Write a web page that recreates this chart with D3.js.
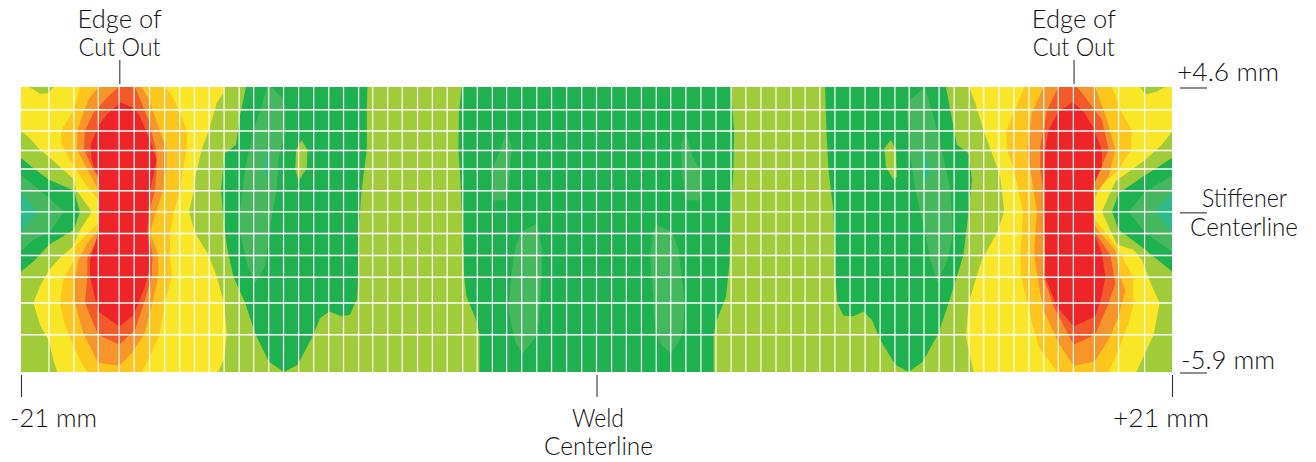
<!DOCTYPE html>
<html><head><meta charset="utf-8">
<script src="https://cdn.jsdelivr.net/npm/d3@7/dist/d3.min.js"></script>
<style>html,body{margin:0;padding:0;background:#fff}svg{display:block}text{font-family:Lato,"Open Sans",sans-serif;font-weight:300;fill:#111;font-size:25px}</style>
</head><body><svg id="c" width="1316" height="462"></svg>
<script>
// Contour outlines in mm: [x along weld normal, y from stiffener centerline]
const yellowLeft=[[-21,4.6],[-13.59,4.6],[-13.62,4.37],[-13.86,4.01],[-14.16,2.96],[-14.41,2.29],[-14.63,1.30],[-14.69,.79],[-14.87,0],[-14.65,-.78],[-14.16,-1.58],[-13.86,-2.38],[-13.59,-3.36],[-13.49,-4.53],[-13.59,-5.39],[-13.80,-5.9],[-19.68,-5.9],[-19.82,-5.45],[-19.98,-4.77],[-20.31,-4.16],[-20.55,-3.36],[-20.31,-2.75],[-19.98,-2.14],[-19.58,-1.70],[-19.07,-1.25],[-18.91,-.78],[-18.42,0],[-18.99,.81],[-19.07,1.21],[-19.46,1.55],[-19.94,1.98],[-20.31,2.29],[-20.74,2.78],[-21,2.96]];
const notchLeft=[[-20.70,4.6],[-20.31,4.35],[-19.98,4.37],[-19.82,4.6]];
const goldLeft=[[-18.85,4.6],[-19.07,3.76],[-19.54,2.99],[-19.52,2.47],[-19.07,1.67],[-18.58,.93],[-18.18,.44],[-18.16,0],[-18.18,-.42],[-18.55,-.78],[-19.03,-1.27],[-19.07,-1.77],[-19.46,-2.50],[-19.58,-3.36],[-19.40,-4.16],[-19.07,-4.96],[-18.79,-5.57],[-18.58,-5.9],[-16.60,-5.9],[-16.29,-5.33],[-15.95,-4.53],[-15.75,-3.36],[-15.50,-2.38],[-15.56,-1.58],[-15.56,-.78],[-15.42,0],[-15.20,.79],[-15.10,1.55],[-14.95,2.29],[-14.93,2.96],[-15.20,3.64],[-15.50,4.31],[-15.75,4.6]];
const orangeLeft=[[-18.18,4.6],[-18.51,4.19],[-18.73,3.64],[-18.95,2.96],[-18.95,2.29],[-18.58,1.55],[-18.18,.81],[-18.16,0],[-18.18,-.66],[-18.58,-1.15],[-18.91,-1.77],[-19.03,-2.50],[-19.03,-3.36],[-18.73,-4.47],[-18.18,-5.57],[-17.41,-5.67],[-16.96,-5.20],[-16.51,-4.53],[-16.27,-3.61],[-15.99,-2.40],[-15.99,-1.58],[-16.29,-.78],[-16.07,0],[-15.81,.79],[-15.69,1.59],[-15.69,2.29],[-16.07,3.39],[-16.35,4.19],[-16.60,4.6]];
const redOrangeLeft=[[-17.45,4.6],[-17.88,4.19],[-18.36,3.64],[-18.67,2.99],[-18.70,2.29],[-18.36,1.55],[-18.16,1.24],[-18.16,-.91],[-18.58,-1.70],[-18.58,-2.40],[-18.67,-3.36],[-18.18,-4.53],[-17.41,-4.90],[-16.84,-4.35],[-16.51,-3.36],[-16.23,-2.40],[-16.20,-1.58],[-16.35,-.78],[-16.33,0],[-16.11,.79],[-16.05,1.59],[-16.07,2.29],[-16.35,3.39],[-16.60,4.01],[-16.84,4.6]];
const redLeft=[[-17.36,4.04],[-17.88,3.58],[-18.18,3.15],[-18.46,2.47],[-18.42,1.92],[-18.18,1.24],[-18.16,0],[-18.18,-.78],[-18.48,-1.77],[-18.48,-2.40],[-18.18,-3.67],[-17.41,-4.22],[-16.88,-3.79],[-16.48,-2.75],[-16.32,-2.14],[-16.29,-1.58],[-16.39,-.78],[-16.35,0],[-16.29,.79],[-16.05,1.92],[-16.35,2.78],[-16.66,3.51],[-16.87,3.82]];
const greenWedgeLeft=[[-21,1.98],[-20.55,1.61],[-19.98,1.18],[-19.07,.79],[-18.85,0],[-19.07,-.66],[-19.98,-1.21],[-20.55,-1.83],[-21,-2.20]];
const midWedgeLeft=[[-21,1.36],[-20.55,1.0],[-19.98,.51],[-19.43,0],[-19.98,-.78],[-20.55,-1.03],[-21,-1.46]];
const tealWedgeLeft=[[-21,.75],[-20.43,0],[-21,-.78]];
const greenA=[[-12.79,4.6],[-13.03,3.45],[-13.15,2.47],[-13.56,2.16],[-13.62,1.67],[-13.70,.81],[-13.62,-.17],[-13.49,-1.27],[-13.25,-2.38],[-12.82,-3.36],[-12.46,-4.47],[-11.96,-5.51],[-11.41,-5.9],[-10.90,-5.63],[-10.33,-4.53],[-10.09,-3.92],[-9.75,-3.67],[-9.30,-3.85],[-8.99,-3.79],[-8.75,-3.24],[-8.68,-2.40],[-8.68,-.78],[-8.63,0],[-8.57,.81],[-8.38,2.29],[-8.38,3.76],[-8.36,4.6]];
const islandA=[[-10.76,2.65],[-10.55,2.29],[-10.57,1.61],[-10.88,1.14],[-10.99,1.59],[-10.96,2.29]];
const midA=[[-11.85,4.6],[-11.43,4.13],[-11.34,3.58],[-11.36,2.99],[-11.61,1.92],[-11.67,.81],[-11.85,-.17],[-11.97,-.91],[-12.10,-2.01],[-12.46,-2.63],[-12.76,-1.89],[-13.01,-.78],[-13.01,0],[-12.82,1.59],[-12.52,3.02],[-12.22,3.88],[-12.03,4.6]];
const tealA=[[-11.97,2.47],[-11.94,1.67],[-12.0,1.24],[-12.12,1.49],[-12.07,2.16]];
const greenCenter=[[-4.92,4.6],[-5.02,3.64],[-5.04,2.29],[-4.96,1.06],[-4.88,-.78],[-4.83,-2.40],[-4.74,-3.12],[-4.35,-4.10],[-4.27,-4.53],[-4.27,-5.9],[4.27,-5.9],[4.27,-4.53],[4.39,-3.98],[4.73,-3.12],[4.85,-1.89],[4.90,0],[5.0,1.55],[5.02,3.02],[4.90,4.6]];
const midB1=[[-3.28,2.96],[-3.09,2.35],[-3.18,1.30],[-3.25,.44],[-3.79,.42],[-3.79,1.59],[-3.56,2.16]];
const midB2=[[-2.20,-.45],[-2.0,-1.27],[-2.0,-2.40],[-2.12,-4.10],[-2.24,-4.65],[-2.70,-5.23],[-2.97,-4.77],[-3.21,-3.61],[-3.09,-2.14],[-2.95,-1.27],[-2.73,-.72]];
const midB3=[[3.24,2.96],[3.51,2.04],[3.76,1.59],[3.84,.81],[3.72,.42],[3.24,.44],[3.11,1.55],[3.09,2.47]];
const midB4=[[2.18,-.48],[2.75,-.72],[2.99,-1.40],[3.11,-2.38],[3.21,-3.30],[3.17,-4.22],[3.05,-4.71],[2.71,-5.23],[2.32,-4.84],[2.14,-4.22],[2.08,-3.36],[1.96,-1.64],[2.05,-.78]];
const greenC=[[8.34,4.6],[8.40,2.78],[8.46,1.59],[8.65,0],[8.71,-2.38],[8.79,-3.36],[9.01,-3.83],[9.38,-3.85],[9.74,-3.67],[10.05,-3.98],[10.35,-4.71],[10.90,-5.63],[11.39,-5.9],[11.91,-5.51],[12.48,-4.47],[12.85,-3.36],[13.15,-2.38],[13.39,-1.58],[13.58,0],[13.70,1.18],[13.58,2.16],[13.15,2.47],[13.05,3.02],[12.75,4.6]];
const islandC=[[10.74,2.65],[10.93,2.29],[10.96,1.30],[10.84,1.18],[10.56,1.67],[10.51,2.35]];
const midC=[[11.99,4.6],[12.27,3.64],[12.60,2.29],[12.91,.81],[13.0,-.78],[12.85,-1.64],[12.46,-2.63],[12.18,-1.77],[11.99,-.78],[11.63,.81],[11.42,2.29],[11.32,3.76],[11.45,4.13]];
const tealC=[[11.93,2.47],[12.12,1.61],[12.12,1.30],[11.99,1.18],[11.93,1.55],[11.90,2.29]];
const yellowRight=[[13.60,4.6],[13.82,4.01],[14.12,3.02],[14.43,2.16],[14.73,1.30],[14.88,0],[14.61,-.78],[14.06,-1.77],[13.76,-2.75],[13.58,-3.36],[13.48,-4.59],[13.76,-5.9],[19.70,-5.9],[19.96,-5.33],[20.33,-4.53],[20.55,-3.36],[20.27,-2.75],[19.90,-1.77],[19.60,-1.40],[18.99,-1.21],[18.44,0],[18.93,1.12],[20.03,1.92],[20.63,2.47],[21,2.96],[21,4.6]];
const notchRight=[[19.84,4.6],[20.03,4.31],[20.45,4.43],[20.76,4.6]];
const goldRight=[[15.61,4.6],[15.22,3.64],[14.95,2.99],[14.98,2.29],[15.22,1.59],[15.40,.79],[15.56,0],[15.52,-.78],[15.46,-1.58],[15.49,-2.40],[15.73,-3.36],[15.89,-4.10],[16.13,-4.96],[16.80,-5.9],[18.69,-5.9],[19.05,-5.08],[19.42,-4.10],[19.60,-3.36],[19.58,-2.40],[19.05,-1.40],[18.69,-.91],[18.14,-.23],[18.14,.32],[18.38,.93],[19.05,1.55],[19.50,2.29],[19.54,2.99],[19.11,3.76],[18.81,4.6]];
const orangeRight=[[16.31,4.6],[15.89,3.64],[15.71,2.29],[15.89,1.18],[16.07,0],[16.01,-.78],[15.97,-1.58],[16.13,-2.63],[16.31,-3.61],[16.86,-4.84],[17.41,-5.67],[18.18,-5.51],[18.69,-4.71],[19.05,-3.85],[19.30,-2.87],[19.11,-2.40],[18.93,-1.40],[18.38,-.78],[18.14,-.42],[18.14,.57],[18.69,1.30],[18.93,2.29],[18.63,3.39],[18.20,4.6]];
const redOrangeRight=[[16.86,4.6],[16.44,3.76],[16.19,2.41],[16.19,1.55],[16.31,.79],[16.37,-1.64],[16.31,-2.40],[16.68,-3.49],[17.41,-4.90],[18.20,-4.53],[18.69,-3.36],[18.93,-2.63],[18.75,-1.58],[18.20,-.78],[18.14,1.0],[18.69,2.29],[18.44,3.39],[17.77,4.31],[17.53,4.6]];
const redRight=[[17.39,4.04],[16.86,3.70],[16.50,3.02],[16.37,2.29],[16.35,.79],[16.37,-1.64],[16.37,-2.40],[16.80,-3.49],[17.41,-4.22],[18.20,-3.85],[18.44,-3.12],[18.57,-2.38],[18.44,-1.52],[18.20,-.91],[18.14,-.05],[18.14,1.0],[18.44,1.67],[18.44,2.29],[18.14,3.08],[17.77,3.70]];
const greenWedgeRight=[[21,1.98],[20.03,1.36],[19.05,.69],[18.81,0],[19.05,-.66],[20.03,-1.40],[21,-2.20]];
const midWedgeRight=[[21,1.33],[20.03,.75],[19.42,0],[20.03,-.78],[21,-1.46]];
const tealWedgeRight=[[21,.75],[20.39,0],[21,-.78]];

const meshX=[-19.98,-19.07,-18.18,-17.42,-16.87,-16.31,-15.76,-15.21,-14.67,-14.13,-13.59,-13.04,-12.51,-11.96,-11.42,-10.87,-10.32,-9.77,-9.23,-8.68,-8.17,-7.62,-7.09,-6.53,-5.99,-5.45,-4.88,-4.35,-3.80,-3.28,-2.73,-2.18,-1.64,-1.09,-.54,0,.55,1.09,1.64,2.18,2.71,3.26,3.81,4.36,4.91,5.45,6.0,6.55,7.1,7.61,8.15,8.7,9.25,9.8,10.35,10.89,11.41,11.95,12.5,13.05,13.6,14.13,14.68,15.23,15.78,16.32,16.85,17.4,18.17,19.05,20.0];
const meshY=[3.76,2.98,2.26,1.58,.78,0,-.80,-1.61,-2.41,-3.36,-4.53];

const colors={base:"#a1cc3a",yellow:"#f9e727",gold:"#fec51c",orange:"#f8952a",redOrange:"#f4592a",red:"#ef2429",green:"#1eb14f",mid:"#45b85f",teal:"#2cb98c"};
const layers=[
 [yellowLeft,"yellow"],[yellowRight,"yellow"],[notchLeft,"base"],[notchRight,"base"],
 [goldLeft,"gold"],[goldRight,"gold"],[orangeLeft,"orange"],[orangeRight,"orange"],
 [redOrangeLeft,"redOrange"],[redOrangeRight,"redOrange"],[redLeft,"red"],[redRight,"red"],
 [greenWedgeLeft,"green"],[greenWedgeRight,"green"],[greenA,"green"],[greenCenter,"green"],[greenC,"green"],
 [islandA,"base"],[islandC,"base"],
 [midWedgeLeft,"mid"],[midWedgeRight,"mid"],[midA,"mid"],[midB1,"mid"],[midB2,"mid"],[midB3,"mid"],[midB4,"mid"],[midC,"mid"],
 [tealWedgeLeft,"teal"],[tealWedgeRight,"teal"],[tealA,"teal"],[tealC,"teal"]
];
const xTicks=[-21,0,21];
const yTicks=[4.6,0,-5.9];
const cutOutX=[-17.42,17.4];

const svg=d3.select("#c");
const x=d3.scaleLinear().domain([-21,21]).range([21,1172]);
const y=d3.scaleLinear().domain([4.6,-5.9]).range([87,372]);
const line=d3.line().x(d=>x(d[0])).y(d=>y(d[1]));

svg.append("rect").attr("x",x(-21)).attr("y",y(4.6)).attr("width",x(21)-x(-21)).attr("height",y(-5.9)-y(4.6)).attr("fill",colors.base);
svg.append("g").selectAll("path").data(layers).join("path").attr("d",d=>line(d[0])+"Z").attr("fill",d=>colors[d[1]]);

const mesh=svg.append("g").attr("stroke","#fff");
mesh.selectAll(".v").data(meshX).join("line").attr("class","v").attr("stroke-width",1.2).attr("x1",d=>x(d)).attr("x2",d=>x(d)).attr("y1",y(4.6)).attr("y2",y(-5.9));
mesh.selectAll(".h").data(meshY).join("line").attr("class","h").attr("stroke-width",1.4).attr("x1",x(-21)).attr("x2",x(21)).attr("y1",d=>y(d)).attr("y2",d=>y(d));

const ink=svg.append("g").attr("stroke","#333").attr("stroke-width",1.1);
ink.selectAll(".b").data(xTicks).join("line").attr("class","b").attr("x1",d=>x(d)+.5).attr("x2",d=>x(d)+.5).attr("y1",375).attr("y2",397);
ink.selectAll(".t").data(cutOutX).join("line").attr("class","t").attr("x1",d=>x(d)+.7).attr("x2",d=>x(d)+.7).attr("y1",60).attr("y2",84);
ink.selectAll(".r").data(yTicks).join("line").attr("class","r").attr("x1",1180).attr("x2",1207).attr("y1",d=>y(d)+1).attr("y2",d=>y(d)+1);

const txt=(t,px,py,w,a)=>svg.append("text").attr("x",px).attr("y",py).attr("text-anchor",a||"middle").attr("textLength",w).attr("lengthAdjust","spacingAndGlyphs").text(t);
cutOutX.forEach(v=>{txt("Edge of",x(v)+.5,28,84);txt("Cut Out",x(v)+.5,56,82);});
txt("-21 mm",x(-21)-11,427,87,"start");
txt("+21 mm",x(21)-59,427,96,"start");
txt("Weld",x(0)+1.5,427,52);txt("Centerline",x(0)+2,455,109);
txt("+4.6 mm",1177,81,102,"start");
txt("Stiffener",1202,207,85,"start");
txt("Centerline",1190,236,108,"start");
txt("-5.9 mm",1181,369,94,"start");
</script></body></html>
